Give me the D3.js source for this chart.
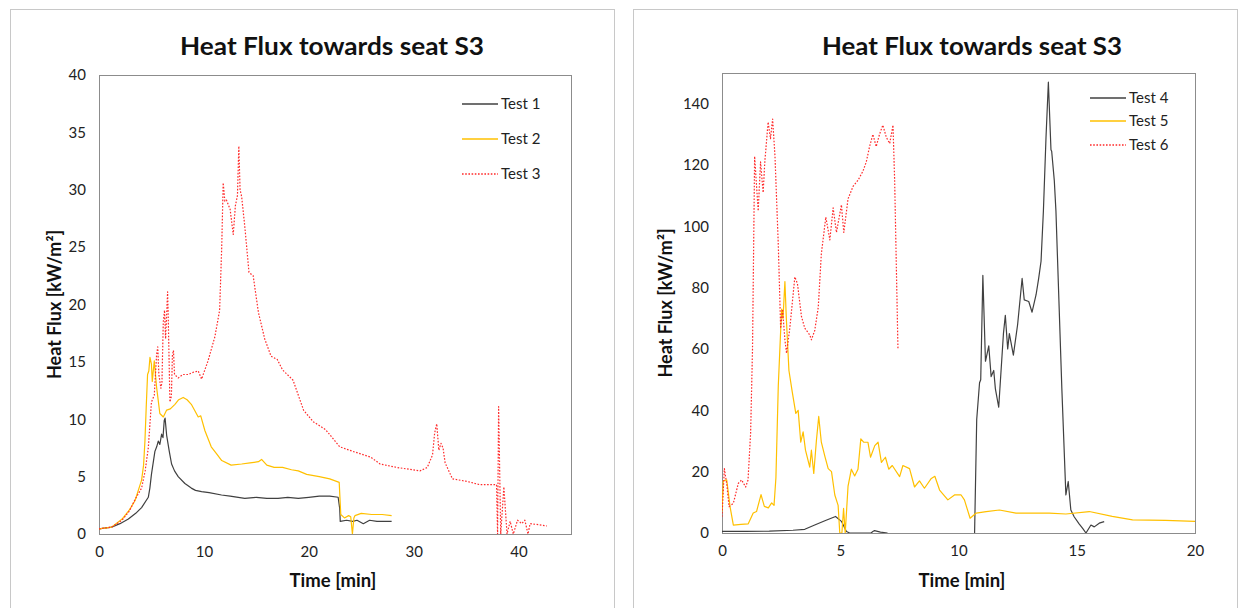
<!DOCTYPE html>
<html><head><meta charset="utf-8">
<script src="https://cdn.jsdelivr.net/npm/d3@7"></script>
<style>
body{margin:0;background:#fff;}
svg{display:block;font-family:Lato,"Open Sans",sans-serif;}
</style></head>
<body><svg id="c" width="1240" height="608"></svg>
<script>
// ---- Data (time [min], heat flux [kW/m²]) ----
const test1 = [[0,0.45],[1.2,0.6],[2.0,0.9],[2.8,1.3],[3.5,1.8],[4.06,2.3],[4.7,3.2],[4.85,4.0],[5.0,5.2],[5.33,7.2],[5.5,7.6],[5.65,8.1],[5.8,7.8],[5.97,8.7],[6.1,8.4],[6.22,9.9],[6.3,10.1],[6.45,8.6],[6.7,7.2],[6.92,6.1],[7.2,5.5],[7.55,5.0],[8.19,4.4],[8.8,4.0],[9.2,3.8],[9.78,3.7],[10.5,3.6],[11.68,3.4],[12.5,3.3],[13.9,3.1],[15,3.2],[16,3.1],[17.07,3.1],[18,3.2],[19,3.1],[20,3.2],[21,3.3],[22.0,3.3],[22.8,3.2],[22.95,2.2],[23.0,1.1],[23.6,1.2],[24.2,1.1],[24.6,1.2],[25.2,0.9],[25.8,1.2],[26.5,1.1],[27.2,1.1],[27.9,1.1]];
const test2 = [[0,0.45],[1.2,0.6],[2.2,1.3],[2.9,2.1],[3.43,2.9],[4.06,4.7],[4.25,6.0],[4.38,8.1],[4.5,11],[4.63,13.9],[4.75,14.2],[4.86,15.4],[5.0,14.8],[5.08,13.3],[5.27,15.1],[5.49,12.8],[5.8,10.5],[6.13,10.2],[6.45,10.8],[6.8,10.9],[7.24,11.3],[7.6,11.7],[8.03,11.9],[8.4,11.7],[8.8,11.3],[9.1,10.8],[9.46,10.2],[9.7,10.3],[10.1,9.0],[10.7,7.6],[11.2,7.0],[11.7,6.4],[12.6,6.0],[13.6,6.1],[14.4,6.2],[15.2,6.3],[15.5,6.5],[16.0,6.0],[16.7,5.8],[17.5,5.8],[18.35,5.6],[19.0,5.5],[19.8,5.2],[21.0,5.0],[22.0,4.8],[22.9,4.5],[23.05,1.7],[23.4,1.4],[23.8,1.6],[24.0,1.5],[24.16,0],[24.3,1.4],[24.4,1.6],[25.0,1.8],[26.0,1.7],[27.0,1.7],[27.9,1.6]];
const test3 = [[0,0.45],[1.2,0.6],[2.2,1.2],[2.9,2.0],[3.43,3.0],[4.06,4.0],[4.4,5.5],[4.7,7.5],[5.0,11.5],[5.27,12.1],[5.49,15.6],[5.6,16.3],[5.71,13.9],[5.9,12.7],[6.0,13.2],[6.13,18.5],[6.25,19.5],[6.35,17.0],[6.54,21.1],[6.6,19.0],[6.76,11.5],[6.9,12.0],[7.0,15.6],[7.1,16.0],[7.2,13.9],[7.56,13.6],[8.0,13.9],[8.5,13.9],[9.0,14.1],[9.46,14.2],[9.78,13.5],[10.4,15.1],[11.05,17.2],[11.5,19.5],[11.7,25],[11.84,30.6],[12.0,29.0],[12.15,29.1],[12.5,28.3],[12.8,26.1],[13.0,28.6],[13.2,29.5],[13.33,33.8],[13.45,30],[13.6,29.4],[13.9,26.8],[14.3,22.8],[14.7,22.5],[15.2,19.3],[15.8,17.0],[16.4,15.5],[17.0,15.2],[17.5,14.3],[18.5,13.4],[19.5,10.8],[20.4,9.8],[21.6,9.1],[22.95,7.6],[24.2,7.2],[25.9,6.7],[26.8,6.1],[28.4,5.8],[30.6,5.5],[31.3,5.8],[31.8,6.9],[32.0,8.8],[32.2,9.6],[32.4,7.3],[32.6,7.9],[32.8,7.5],[33.0,6.2],[33.7,4.8],[35.0,4.6],[36.3,4.3],[37.5,4.3],[37.9,4.3],[38.0,0],[38.1,11.1],[38.3,0],[38.6,4.1],[38.9,0],[39.2,1.1],[39.5,0],[39.9,1.2],[40.3,0.9],[40.6,1.2],[40.9,0],[41.1,0.9],[42.0,0.8],[42.7,0.7]];
const test4 = [[0,0.5],[1,0.5],[2,0.6],[3,0.9],[3.5,1.2],[3.92,2.6],[4.35,4.0],[4.8,5.4],[5.05,3.8],[5.26,0.5],[5.4,0],[6.3,0],[6.38,0.5],[6.45,0.8],[6.7,0.3],[7.0,0],[7.1,null],[10.68,0],[10.77,37],[10.89,49],[10.94,50],[11.03,84],[11.14,56],[11.28,61],[11.38,51],[11.49,53],[11.56,47],[11.70,41],[11.9,65],[11.98,71],[12.08,60],[12.15,65],[12.32,58],[12.5,68],[12.69,83],[12.78,76],[12.97,75.5],[13.11,72],[13.28,77.7],[13.39,83],[13.49,88.6],[13.59,105],[13.7,129],[13.8,147],[13.91,125],[13.94,124.5],[14.05,115],[14.12,105],[14.37,47],[14.54,12.4],[14.64,16.8],[14.75,7.5],[14.89,5.3],[15.1,3],[15.25,1.5],[15.39,0],[15.6,2.6],[15.74,2],[15.95,3.2],[16.16,3.7]];
const test5 = [[0,7],[0.05,17],[0.2,17.3],[0.34,8.6],[0.48,2.6],[0.8,2.8],[1.11,3.0],[1.32,6.5],[1.46,7],[1.65,12.5],[1.79,8.7],[1.96,8.2],[2.1,9.8],[2.2,9],[2.28,18],[2.38,48],[2.52,73],[2.58,70],[2.66,82],[2.72,70],[2.83,53],[2.97,46],[3.12,39],[3.22,40],[3.33,29.6],[3.43,33],[3.53,27],[3.71,21.5],[3.78,27],[3.88,19.4],[3.99,30],[4.09,38],[4.2,29.6],[4.35,25],[4.49,21],[4.63,20],[4.77,12.4],[4.91,9],[4.98,0],[5.07,0],[5.14,8],[5.21,0],[5.33,15.3],[5.47,20.8],[5.61,18.6],[5.75,20.8],[5.87,30.7],[5.99,29.6],[6.17,29.6],[6.28,24.7],[6.46,28.5],[6.6,29.6],[6.74,23],[6.91,24.7],[7.05,20.8],[7.2,22],[7.51,18.4],[7.65,22],[7.93,21],[8.14,15],[8.35,17],[8.56,14.6],[8.85,17.8],[9.0,18.5],[9.2,14],[9.55,10.8],[9.83,12.4],[10.11,12.4],[10.25,10.8],[10.49,4.8],[10.75,6.5],[11.17,7],[11.73,7.5],[12.43,6.5],[13.84,6.5],[14.54,6.2],[15.53,7],[16.5,5.4],[17.36,4.3],[18.76,4.1],[20,3.8]];
const test6 = [[0,5.3],[0.1,21],[0.2,16],[0.3,8.6],[0.48,9.7],[0.69,16.2],[0.83,17.3],[1.0,15],[1.1,17.3],[1.21,32.6],[1.29,60],[1.38,122.8],[1.53,105],[1.63,121],[1.74,111],[1.81,121],[1.95,134],[2.05,128.6],[2.14,135],[2.24,123],[2.38,94],[2.48,66.7],[2.56,73],[2.66,63],[2.73,58.6],[2.87,67],[3.08,83.5],[3.19,81.3],[3.36,70.6],[3.5,66.8],[3.71,64.6],[3.78,63],[3.92,66],[4.07,73.6],[4.2,91],[4.39,103],[4.56,95.6],[4.7,106],[4.84,98],[5.05,107],[5.15,98],[5.33,109],[5.54,113],[5.75,115],[5.96,118],[6.1,121],[6.24,126],[6.38,130],[6.52,126],[6.66,130],[6.8,133],[6.95,129],[7.09,127],[7.23,133],[7.3,115],[7.44,60]];

const leftNames = ["Test 1","Test 2","Test 3"];
const rightNames = ["Test 4","Test 5","Test 6"];
const leftXTicks = [0,10,20,30,40];
const leftYTicks = [0,5,10,15,20,25,30,35,40];
const rightXTicks = [0,5,10,15,20];
const rightYTicks = [0,20,40,60,80,100,120,140];
const titleText = "Heat Flux towards seat S3";
const xTitle = "Time [min]";
const yTitle = "Heat Flux [kW/m²]";

const styles = [
  {color:"#404040", dash:null},
  {color:"#FFC000", dash:null},
  {color:"#FF2a2a", dash:"1.6,1.6"}
];

const svg = d3.select("#c");

function panel(cfg){
  const g = svg.append("g");
  g.append("rect").attr("x",cfg.frame[0]+0.5).attr("y",9.5)
    .attr("width",cfg.frame[1]-cfg.frame[0]).attr("height",640)
    .attr("fill","#fff").attr("stroke","#c8c8c8").attr("stroke-width",1);

  const x = d3.scaleLinear().domain(cfg.xDomain).range([cfg.l, cfg.r]);
  const y = d3.scaleLinear().domain(cfg.yDomain).range([cfg.b, cfg.t]);

  g.append("rect").attr("x",cfg.l+0.5).attr("y",cfg.t+0.5)
    .attr("width",cfg.r-cfg.l).attr("height",cfg.b-cfg.t)
    .attr("fill","none").attr("stroke","#8c8c8c").attr("stroke-width",1);

  const clipId = "clip"+cfg.id;
  svg.append("clipPath").attr("id",clipId).append("rect")
    .attr("x",cfg.l).attr("y",cfg.t-2).attr("width",cfg.r-cfg.l+1).attr("height",cfg.b-cfg.t+2);

  const ax = g.append("g").attr("transform",`translate(0,${cfg.b})`)
    .call(d3.axisBottom(x).tickValues(cfg.xTicks).tickSize(0).tickPadding(12).tickFormat(d3.format("d")));
  ax.select(".domain").remove();
  ax.selectAll("text").attr("font-size",15).attr("fill","#222").attr("font-family","Lato,sans-serif");

  const ay = g.append("g").attr("transform",`translate(${cfg.l},0)`)
    .call(d3.axisLeft(y).tickValues(cfg.yTicks).tickSize(0).tickPadding(cfg.yPad).tickFormat(d3.format("d")));
  ay.select(".domain").remove();
  ay.selectAll("text").attr("font-size",15).attr("fill","#222").attr("font-family","Lato,sans-serif");

  const line = d3.line().defined(d=>d[1]!=null).x(d=>x(d[0])).y(d=>y(d[1]));
  const lines = g.append("g").attr("clip-path",`url(#${clipId})`);
  cfg.series.forEach((s,i)=>{
    lines.append("path").datum(s).attr("d",line).attr("fill","none")
      .attr("stroke",styles[i].color).attr("stroke-width",1.2)
      .attr("stroke-dasharray",styles[i].dash).attr("stroke-linejoin","round");
  });

  g.append("text").attr("x",cfg.titleX).attr("y",55).attr("text-anchor","middle")
    .attr("font-size",25).attr("font-weight","bold").attr("fill","#111")
    .attr("textLength",cfg.titleW).attr("lengthAdjust","spacingAndGlyphs").text(titleText);
  g.append("text").attr("x",cfg.xTitleX).attr("y",587).attr("text-anchor","middle")
    .attr("font-size",18.5).attr("font-weight","bold").attr("fill","#111").text(xTitle);
  g.append("text").attr("transform",`translate(${cfg.yTitleX},${(cfg.t+cfg.b)/2}) rotate(-90)`)
    .attr("text-anchor","middle").attr("font-size",18).attr("font-weight","bold").attr("fill","#111").text(yTitle);

  cfg.names.forEach((n,i)=>{
    const ly = cfg.legY[i];
    g.append("line").attr("x1",cfg.legX).attr("x2",cfg.legX+36).attr("y1",ly).attr("y2",ly)
      .attr("stroke",styles[i].color).attr("stroke-width",1.3).attr("stroke-dasharray",styles[i].dash);
    g.append("text").attr("x",cfg.legX+39).attr("y",ly+5).attr("font-size",15).attr("fill","#222").text(n);
  });
}

panel({id:"L", frame:[10,614], l:99, r:571, t:75, b:534, xDomain:[0,45], yDomain:[0,40],
  xTicks:leftXTicks, yTicks:leftYTicks, yPad:13, series:[test1,test2,test3], names:leftNames,
  titleX:332, titleW:304, xTitleX:333, yTitleX:61, legX:462, legY:[104,139,174]});
panel({id:"R", frame:[633,1237], l:722, r:1195, t:73, b:533, xDomain:[0,20], yDomain:[0,150],
  xTicks:rightXTicks, yTicks:rightYTicks, yPad:13, series:[test4,test5,test6], names:rightNames,
  titleX:972, titleW:300, xTitleX:962, yTitleX:672, legX:1090, legY:[98,121,145]});
</script></body></html>
